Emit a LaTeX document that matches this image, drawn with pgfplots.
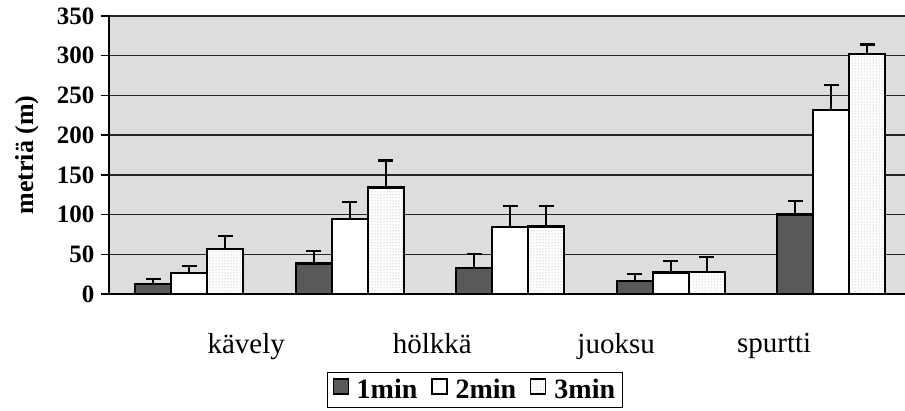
\documentclass[border=0pt]{standalone}
\usepackage{pgfplots}
\pgfplotsset{compat=1.18}
\usepackage{pgfplotstable}
\usepackage{fontspec}
\setmainfont{Liberation Serif}
\usetikzlibrary{patterns}

\pgfplotstableread{
x y e
0 13 6
1 38.5 16
2 33 17
3 16 9
4 100 17
}\tableA
\pgfplotstableread{
x y e
0 26 9
1 94 22
2 84 27
3 27 15
4 232 31
}\tableB
\pgfplotstableread{
x y e
0 57 16
1 134 34
2 85 26
3 28 19
4 302 12
}\tableC

\begin{document}
\begin{tikzpicture}
\path[use as bounding box] (0pt,0pt) rectangle (905pt,-411pt);
\begin{axis}[
  at={(109pt,-294pt)}, anchor=south west,
  scale only axis, width=796pt, height=278pt,
  xmin=-0.5, xmax=4.46, ymin=0, ymax=350,
  enlargelimits=false,
  axis x line*=bottom, axis y line*=left,
  axis line style={line width=1.6pt, -},
  axis background/.style={fill=gray!27},
  ybar=0pt, bar width=36pt,
  ytick={0,50,...,350},
  ymajorgrids, grid style={line width=1.4pt, black!85},
  xtick={0.355,1.514,2.660,3.645},
  xticklabels={kävely, hölkkä, juoksu, spurtti},
  xtick style={draw=none},
  ytick style={line width=1.4pt, black},
  ytick align=outside, major tick length=8pt,
  /pgf/number format/assume math mode=true,
  yticklabel style={font=\fontsize{25}{25}\selectfont\bfseries, xshift=-3pt},
  xticklabel style={font=\fontsize{29}{29}\selectfont, yshift=-28pt},
  ylabel={metriä (m)},
  ylabel style={font=\fontsize{26}{26}\selectfont\bfseries, at={(axis description cs:-0.103,0.5)}, anchor=center},
  legend style={at={(axis description cs:0.274,-0.281)}, anchor=north west,
    draw=black, line width=0.8pt, font=\fontsize{28}{32}\selectfont\bfseries,
    inner xsep=5pt, inner ysep=5pt,
    /tikz/every odd column/.append style={column sep=6pt},
    /tikz/every even column/.append style={column sep=12pt}},
  legend columns=-1,
  legend image code/.code={\draw[#1, line width=1.2pt] (0pt,-4pt) rectangle (15pt,11pt);},
  error bars/y dir=plus, error bars/y explicit,
  error bars/error bar style={line width=2.2pt, black},
  error bars/error mark options={line width=2.2pt, black, mark size=7.5pt, rotate=90},
]
\addplot[bar shift=-36pt, draw=black, line width=2.2pt, fill=black!65]
  table[x=x, y=y, y error=e]{\tableA};
\addplot[bar shift=0pt, draw=black, line width=2.2pt, fill=white]
  table[x=x, y=y, y error=e]{\tableB};
\addplot[bar shift=36pt, draw=black, line width=2.2pt, fill=white,
  postaction={pattern=dots, pattern color=gray!75}]
  table[x=x, y=y, y error=e]{\tableC};
\legend{1min, 2min, 3min}
\end{axis}
\end{tikzpicture}
\end{document}
